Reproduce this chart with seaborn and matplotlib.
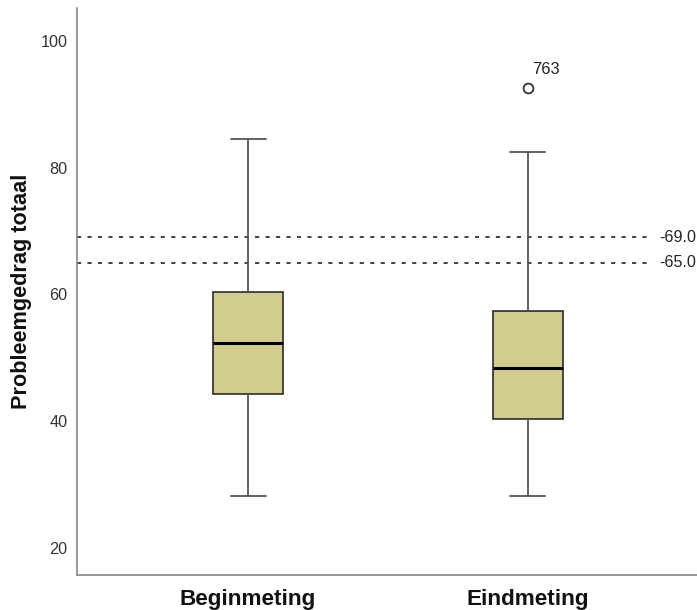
import matplotlib
matplotlib.use("Agg")
import matplotlib.pyplot as plt
import seaborn as sns
import pandas as pd

# ---- data ----
categories = ["Beginmeting", "Eindmeting"]
begin_summary = [28.2, 44.3, 52.3, 60.4, 84.5]   # min, Q1, median, Q3, max
eind_summary = [28.2, 40.4, 48.3, 57.4, 82.5]
outlier_group = ["Eindmeting"]
outlier_values = [92.5]
outlier_labels = ["763"]
ref_lines = [69.0, 65.0]
ref_labels = ["-69.0", "-65.0"]
yticks = [20, 40, 60, 80, 100]

df = pd.DataFrame({
    "group": [categories[0]] * len(begin_summary) + [categories[1]] * len(eind_summary),
    "value": begin_summary + eind_summary,
})
out_df = pd.DataFrame({"group": outlier_group, "value": outlier_values})

sns.set_theme(style="white")
plt.rcParams["font.family"] = ["Liberation Sans", "DejaVu Sans"]

fig = plt.figure(figsize=(6.97, 6.10), dpi=100)
ax = fig.add_axes([77 / 697, 35 / 610, 620 / 697, 567 / 610])

sns.boxplot(
    data=df, x="group", y="value", order=categories, ax=ax,
    color="#D2CC8F", saturation=1, width=0.25, whis=10,
    linecolor="#333333", linewidth=1.1, showfliers=False,
    boxprops=dict(edgecolor="#2b2b2b", linewidth=1.2),
    whiskerprops=dict(color="#555555", linewidth=1.3),
    capprops=dict(color="#555555", linewidth=1.3),
    medianprops=dict(color="#000000", linewidth=2.2),
)

sns.scatterplot(
    data=out_df, x="group", y="value", ax=ax, marker="o", s=50,
    facecolor="white", edgecolor="#333333", linewidth=1.3, zorder=5,
)
for g, v, lab in zip(outlier_group, outlier_values, outlier_labels):
    ax.annotate(lab, (categories.index(g), v), xytext=(3, 8), textcoords="offset points",
                fontsize=11.8, color="#222222", ha="left", va="bottom")

for yv, lab in zip(ref_lines, ref_labels):
    ax.axhline(yv, xmin=0, xmax=0.927, color="#333333", linewidth=1.3,
               linestyle=(0, (2.3, 3.5)), zorder=1)
    ax.text(1.47, yv, lab, fontsize=11.6, color="#222222", ha="left", va="center")

ax.set_xlim(-0.611, 1.604)
ax.set_ylim(15.7, 105.2)
ax.set_yticks(yticks)
ax.set_yticklabels([str(t) for t in yticks])
ax.tick_params(axis="both", length=0)
ax.tick_params(axis="y", labelsize=11.7, labelcolor="#333333", pad=7)
ax.tick_params(axis="x", labelsize=16.2, labelcolor="#111111", pad=10)
for t in ax.get_xticklabels():
    t.set_fontweight("bold")

ax.set_xlabel("")
ax.set_ylabel("Probleemgedrag totaal", fontsize=15.6, fontweight="bold",
              color="#111111", labelpad=6)

for s in ["top", "right"]:
    ax.spines[s].set_visible(False)
for s in ["left", "bottom"]:
    ax.spines[s].set_color("#888888")
    ax.spines[s].set_linewidth(1.2)

fig.savefig("out.png", dpi=100)
